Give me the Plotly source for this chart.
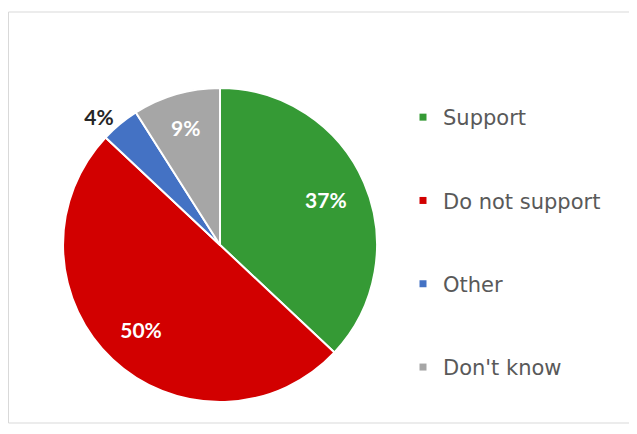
import plotly.graph_objects as go

categories = ["Support", "Do not support", "Other", "Don't know"]
values = [37, 50, 4, 9]
colors = ["#359A35", "#D20000", "#4472C4", "#A6A6A6"]
text_colors = ["white", "white", "#262626", "white"]
text_positions = ["inside", "inside", "outside", "inside"]

W, H = 637, 434

def px(x):
    return x / W

def py(y):
    return 1 - y / H

pie_domain = dict(x=[px(55), px(369)], y=[py(394), py(80)])

# solid pie, no text
fig = go.Figure()
fig.add_trace(go.Pie(
    labels=categories,
    values=values,
    sort=False,
    direction="clockwise",
    rotation=0,
    marker=dict(colors=colors, line=dict(color="white", width=2)),
    textinfo="none",
    showlegend=False,
    domain=pie_domain,
    hoverinfo="label+percent",
))
# transparent ring on top carrying the labels (placed mid-ring)
fig.add_trace(go.Pie(
    labels=categories,
    values=values,
    sort=False,
    direction="clockwise",
    rotation=0,
    hole=0.47,
    marker=dict(colors=["rgba(0,0,0,0)"] * len(values), line=dict(width=0)),
    texttemplate="%{percent:.0%}",
    textposition=text_positions,
    textfont=dict(family="Lato", size=21, color=text_colors, weight="bold"),
    insidetextorientation="horizontal",
    showlegend=False,
    domain=pie_domain,
    hoverinfo="skip",
))

for name, col in zip(categories, colors):
    fig.add_trace(go.Scatter(
        x=[None], y=[None], mode="markers", name=name,
        marker=dict(symbol="square", size=7, color=col),
        legendgroup=name, showlegend=True,
    ))

fig.update_layout(
    width=W, height=H,
    margin=dict(l=0, r=0, t=0, b=0),
    paper_bgcolor="white", plot_bgcolor="white",
    xaxis=dict(visible=False), yaxis=dict(visible=False),
    legend=dict(
        x=px(395), y=py(89), xanchor="left", yanchor="top",
        font=dict(family="DejaVu Sans", size=21, color="#595959"),
        tracegroupgap=53, itemwidth=30, bgcolor="rgba(0,0,0,0)",
    ),
    shapes=[dict(type="rect", xref="paper", yref="paper",
                 x0=px(0.5), x1=1.05, y0=py(415), y1=py(4),
                 line=dict(color="#D9D9D9", width=1), layer="below")],
)

fig.write_html("out.html")
